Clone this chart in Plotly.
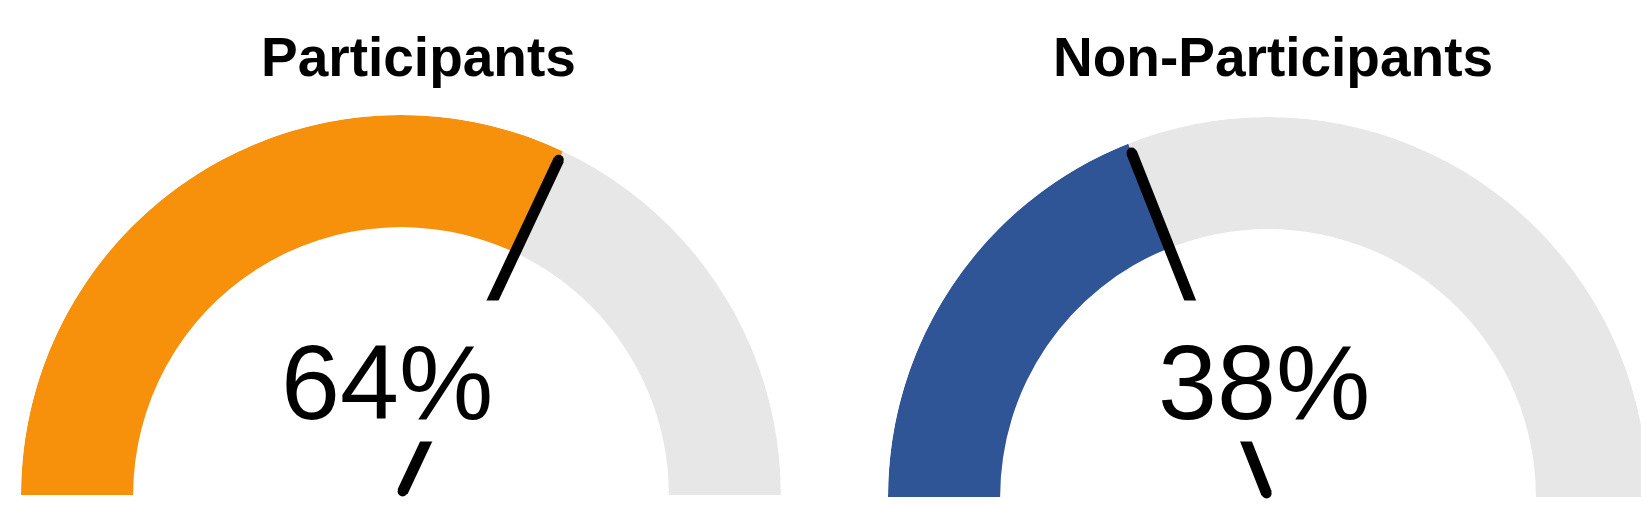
import plotly.graph_objects as go

groups = ["Participants", "Non-Participants"]
values = [64, 38]          # percent
fill_colors = ["#F7910B", "#2F5597"]
track_color = "#E7E7E7"

W, H = 1649, 506
hole = 0.705   # inner radius / outer radius

# gauge placement in pixels (left, right, bottom) -> paper domains
gauges_px = [(13, 773, 487), (880, 1640, 489)]
title_x_px = [410, 1265]
label_x_px = [379, 1256]

fig = go.Figure()

for i, (name, val, col) in enumerate(zip(groups, values, fill_colors)):
    pid = "polar" if i == 0 else "polar%d" % (i + 1)
    ang = val * 1.8  # percent -> degrees of the half circle

    # background track
    fig.add_trace(go.Barpolar(
        r=[1 - hole], base=[hole], theta=[90], width=[180],
        marker=dict(color=track_color, line=dict(width=0)),
        subplot=pid, hoverinfo="skip", showlegend=False))
    # value bar
    fig.add_trace(go.Barpolar(
        r=[1 - hole], base=[hole], theta=[ang / 2], width=[ang],
        marker=dict(color=col, line=dict(width=0)),
        subplot=pid, showlegend=False))
    # needle (markers give rounded ends)
    fig.add_trace(go.Scatterpolar(
        r=[0.01, 0.975], theta=[ang, ang], mode="lines+markers",
        line=dict(color="black", width=11),
        marker=dict(color="black", size=10),
        subplot=pid, hoverinfo="skip", showlegend=False))

    x0, x1, yb = gauges_px[i]
    r_px = (x1 - x0) / 2
    fig.update_layout(**{pid: dict(
        domain=dict(x=[x0 / W, x1 / W], y=[(H - yb) / H, (H - yb + r_px) / H]),
        sector=[0, 180],
        hole=0,
        bgcolor="white",
        radialaxis=dict(range=[0, 1], visible=False, showgrid=False),
        angularaxis=dict(rotation=180, direction="clockwise", visible=False,
                         showgrid=False, thetaunit="degrees"),
    )})

    # title
    fig.add_annotation(x=title_x_px[i] / W, y=1 - 49 / H, xref="paper", yref="paper",
                       xanchor="center", yanchor="middle",
                       text="<b>%s</b>" % name, showarrow=False,
                       font=dict(family="Liberation Sans, Arial", size=55, color="black"))
    # white box hiding the middle of the needle
    fig.add_annotation(x=label_x_px[i] / W, y=1 - 363 / H, xref="paper", yref="paper",
                       xanchor="center", yanchor="middle",
                       text="&nbsp;", showarrow=False,
                       width=250, height=138, bgcolor="white",
                       font=dict(size=10))
    # value label
    fig.add_annotation(x=label_x_px[i] / W, y=1 - 374 / H, xref="paper", yref="paper",
                       xanchor="center", yanchor="middle",
                       text="%d%%" % val, showarrow=False,
                       font=dict(family="Liberation Sans, Arial", size=106, color="black"))

fig.update_layout(
    width=W, height=H,
    margin=dict(l=0, r=0, t=0, b=0),
    paper_bgcolor="white",
    plot_bgcolor="white",
)

fig.write_html("out.html")
